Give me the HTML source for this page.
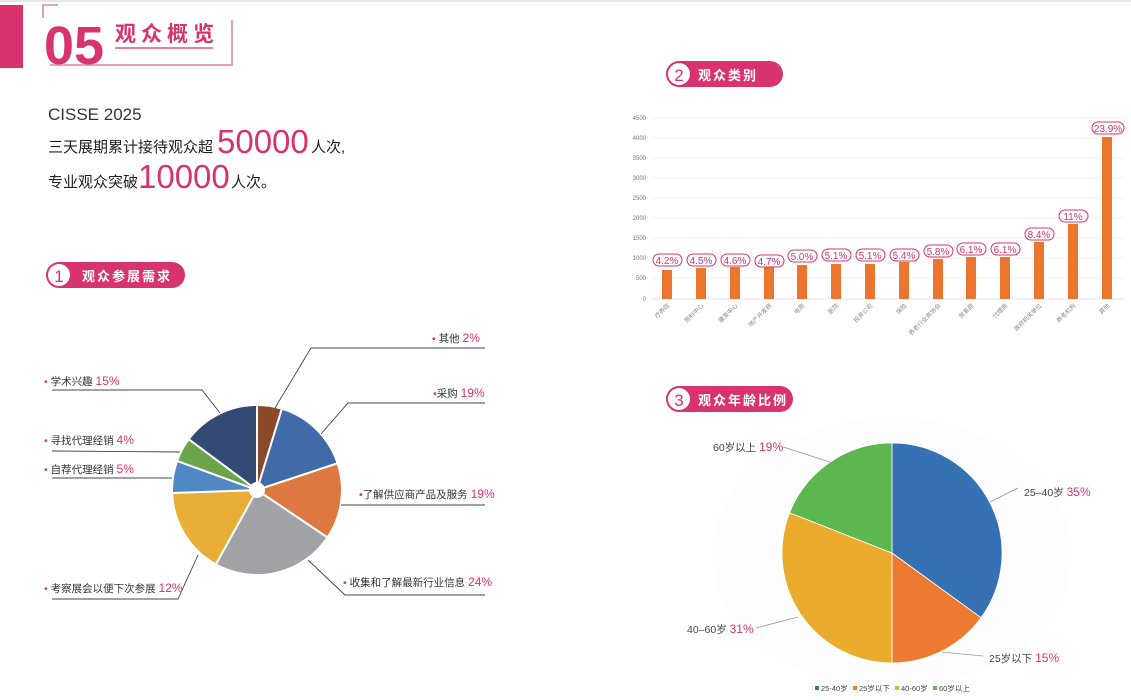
<!DOCTYPE html>
<html><head><meta charset="utf-8"><style>
html,body{margin:0;padding:0;background:#fff;}
svg{display:block;font-family:"Liberation Sans","Noto Sans CJK SC",sans-serif;}
</style></head><body>
<svg width="1131" height="700" viewBox="0 0 1131 700" xmlns="http://www.w3.org/2000/svg">
<rect width="1131" height="700" fill="#fff"/>
<line x1="0" y1="1" x2="1131" y2="1" stroke="#e6e6e6" stroke-width="2"/>
<!-- header -->
<rect x="0" y="5" width="23" height="63" fill="#d8336f"/>
<path d="M58 5 H43 V18" fill="none" stroke="#e27fa5" stroke-width="1.5"/>
<path d="M50 65 H232 V20" fill="none" stroke="#e27fa5" stroke-width="1.5"/>
<text x="44" y="64" font-size="54" font-weight="bold" fill="#d8336f" textLength="60" lengthAdjust="spacingAndGlyphs">05</text>
<text x="115" y="41" font-size="21" font-weight="bold" fill="#d8336f" letter-spacing="5">观众概览</text>
<line x1="115" y1="48" x2="213" y2="48" stroke="#d8336f" stroke-width="1.2"/>
<text x="48" y="120" font-size="17" fill="#333">CISSE 2025</text>
<text x="48" y="152" font-size="15" fill="#222">三天展期累计接待观众超</text>
<text x="217" y="153" font-size="33" fill="#d8336f">50000</text>
<text x="311" y="152" font-size="15" fill="#222">人次,</text>
<text x="48" y="187" font-size="15" fill="#222">专业观众突破</text>
<text x="138" y="188" font-size="33" fill="#d8336f">10000</text>
<text x="231" y="187" font-size="15" fill="#222">人次。</text>

<!-- pills -->
<g>
<rect x="46" y="262" width="139" height="26" rx="13" fill="#d8336f"/>
<circle cx="59" cy="275" r="11" fill="#fff"/>
<text x="59" y="282" font-size="17" fill="#d8336f" text-anchor="middle">1</text>
<text x="82" y="281" font-size="13" font-weight="bold" fill="#fff" letter-spacing="2">观众参展需求</text>
</g>
<g>
<rect x="666" y="61" width="117" height="26" rx="13" fill="#d8336f"/>
<circle cx="679" cy="74" r="11" fill="#fff"/>
<text x="679" y="81" font-size="17" fill="#d8336f" text-anchor="middle">2</text>
<text x="698" y="80" font-size="13" font-weight="bold" fill="#fff" letter-spacing="2">观众类别</text>
</g>
<g>
<rect x="666" y="386" width="127" height="26" rx="13" fill="#d8336f"/>
<circle cx="679" cy="399" r="11" fill="#fff"/>
<text x="679" y="406" font-size="17" fill="#d8336f" text-anchor="middle">3</text>
<text x="698" y="405" font-size="13" font-weight="bold" fill="#fff" letter-spacing="2">观众年龄比例</text>
</g>

<!-- bar chart -->
<g font-size="6" fill="#777" text-anchor="end">
<g stroke="#ececec" stroke-width="0.8">
<line x1="652" y1="118" x2="1124" y2="118"/><line x1="652" y1="138" x2="1124" y2="138"/>
<line x1="652" y1="158" x2="1124" y2="158"/><line x1="652" y1="178" x2="1124" y2="178"/>
<line x1="652" y1="198" x2="1124" y2="198"/><line x1="652" y1="218" x2="1124" y2="218"/>
<line x1="652" y1="238" x2="1124" y2="238"/><line x1="652" y1="258" x2="1124" y2="258"/>
<line x1="652" y1="278" x2="1124" y2="278"/>
<line x1="652" y1="299" x2="1124" y2="299" stroke="#ddd"/>
</g>
<text x="646" y="120">4500</text><text x="646" y="140">4000</text><text x="646" y="160">3500</text>
<text x="646" y="180">3000</text><text x="646" y="200">2500</text><text x="646" y="220">2000</text>
<text x="646" y="240">1500</text><text x="646" y="260">1000</text><text x="646" y="280">500</text>
<text x="646" y="301">0</text>
</g>
<g fill="#ec7530">
<rect x="662" y="270" width="10" height="29"/>
<rect x="696" y="268" width="10" height="31"/>
<rect x="730" y="267" width="10" height="32"/>
<rect x="764" y="266" width="10" height="33"/>
<rect x="797" y="265" width="10" height="34"/>
<rect x="831" y="264" width="10" height="35"/>
<rect x="865" y="264" width="10" height="35"/>
<rect x="899" y="262" width="10" height="37"/>
<rect x="933" y="259" width="10" height="40"/>
<rect x="966" y="257" width="10" height="42"/>
<rect x="1000" y="257" width="10" height="42"/>
<rect x="1034" y="242" width="10" height="57"/>
<rect x="1068" y="224" width="10" height="75"/>
<rect x="1102" y="137" width="10" height="162"/>
</g>
<g font-size="10" fill="#d8336f" text-anchor="middle">
<g fill="#fff" stroke="#d8336f" stroke-width="1">
<rect x="653" y="254" width="29" height="12" rx="6"/>
<rect x="687" y="254" width="29" height="12" rx="6"/>
<rect x="721" y="254" width="29" height="12" rx="6"/>
<rect x="755" y="255" width="29" height="12" rx="6"/>
<rect x="788" y="250" width="29" height="12" rx="6"/>
<rect x="822" y="249" width="29" height="12" rx="6"/>
<rect x="856" y="249" width="29" height="12" rx="6"/>
<rect x="890" y="249" width="29" height="12" rx="6"/>
<rect x="924" y="245" width="29" height="12" rx="6"/>
<rect x="957" y="243" width="29" height="12" rx="6"/>
<rect x="991" y="243" width="29" height="12" rx="6"/>
<rect x="1025" y="228" width="29" height="12" rx="6"/>
<rect x="1059" y="210" width="29" height="12" rx="6"/>
<rect x="1092" y="122" width="32" height="12" rx="6"/>
</g>
<text x="667" y="264">4.2%</text><text x="701" y="264">4.5%</text><text x="735" y="264">4.6%</text>
<text x="769" y="265">4.7%</text><text x="802" y="260">5.0%</text><text x="836" y="259">5.1%</text>
<text x="870" y="259">5.1%</text><text x="904" y="259">5.4%</text><text x="938" y="255">5.8%</text>
<text x="971" y="253">6.1%</text><text x="1005" y="253">6.1%</text><text x="1039" y="238">8.4%</text>
<text x="1073" y="220">11%</text><text x="1108" y="132">23.9%</text>
</g>
<g font-size="6" fill="#888" text-anchor="end">
<text transform="translate(670,306) rotate(-45)">疗养院</text>
<text transform="translate(704,306) rotate(-45)">照料中心</text>
<text transform="translate(738,306) rotate(-45)">康复中心</text>
<text transform="translate(772,306) rotate(-45)">地产开发商</text>
<text transform="translate(805,306) rotate(-45)">电商</text>
<text transform="translate(839,306) rotate(-45)">医院</text>
<text transform="translate(873,306) rotate(-45)">投资公司</text>
<text transform="translate(907,306) rotate(-45)">保险</text>
<text transform="translate(941,306) rotate(-45)">养老行业商协会</text>
<text transform="translate(974,306) rotate(-45)">贸易商</text>
<text transform="translate(1008,306) rotate(-45)">代理商</text>
<text transform="translate(1042,306) rotate(-45)">政府机关单位</text>
<text transform="translate(1076,306) rotate(-45)">养老机构</text>
<text transform="translate(1110,306) rotate(-45)">其他</text>
</g>

<!-- pie 1 -->
<g stroke="#fff" stroke-width="2">
<path d="M257 490 L257 405 A85 85 0 0 1 281.9 408.7 Z" fill="#8a4a2a"/>
<path d="M257 490 L281.9 408.7 A85 85 0 0 1 337.6 463.3 Z" fill="#416aa8"/>
<path d="M257 490 L337.6 463.3 A85 85 0 0 1 327.5 537.5 Z" fill="#dc7840"/>
<path d="M257 490 L327.5 537.5 A85 85 0 0 1 215.8 564.4 Z" fill="#a1a2a5"/>
<path d="M257 490 L215.8 564.4 A85 85 0 0 1 172.1 493 Z" fill="#e8ae38"/>
<path d="M257 490 L172.1 493 A85 85 0 0 1 177.1 460.9 Z" fill="#5088c4"/>
<path d="M257 490 L177.1 460.9 A85 85 0 0 1 188.7 439.2 Z" fill="#6aa54c"/>
<path d="M257 490 L188.7 439.2 A85 85 0 0 1 257 405 Z" fill="#334a74"/>
</g>
<circle cx="257" cy="490" r="8" fill="#fff"/>
<g fill="none" stroke="#444" stroke-width="0.9">
<polyline points="275,408 311,348 485,348"/>
<polyline points="321,434 348,403 485,403"/>
<polyline points="341,505 485,505"/>
<polyline points="308,560 345,595 485,595"/>
<polyline points="198,555 178,599 52,599"/>
<polyline points="172,478 52,478"/>
<polyline points="180,452 52,451"/>
<polyline points="220,413 202,390 52,390"/>
</g>
<g font-size="10.5" fill="#333">
<text x="432" y="342"><tspan fill="#d8336f">•</tspan> 其他 <tspan fill="#d8336f" font-size="12">2%</tspan></text>
<text x="433" y="397"><tspan fill="#d8336f">•</tspan>采购 <tspan fill="#d8336f" font-size="12">19%</tspan></text>
<text x="359" y="498"><tspan fill="#d8336f">•</tspan>了解供应商产品及服务 <tspan fill="#d8336f" font-size="12">19%</tspan></text>
<text x="343" y="586"><tspan fill="#d8336f">•</tspan> 收集和了解最新行业信息 <tspan fill="#d8336f" font-size="12">24%</tspan></text>
<text x="44" y="592"><tspan fill="#d8336f">•</tspan> 考察展会以便下次参展 <tspan fill="#d8336f" font-size="12">12%</tspan></text>
<text x="44" y="473"><tspan fill="#d8336f">•</tspan> 自荐代理经销 <tspan fill="#d8336f" font-size="12">5%</tspan></text>
<text x="44" y="444"><tspan fill="#d8336f">•</tspan> 寻找代理经销 <tspan fill="#d8336f" font-size="12">4%</tspan></text>
<text x="44" y="385"><tspan fill="#d8336f">•</tspan> 学术兴趣 <tspan fill="#d8336f" font-size="12">15%</tspan></text>
</g>

<!-- pie 3 -->
<ellipse cx="892" cy="553" rx="180" ry="135" fill="#fdfdfd"/>
<g stroke="#fff" stroke-width="0.8">
<path d="M892 553 L892 443 A110 110 0 0 1 981 617.7 Z" fill="#3571b3"/>
<path d="M892 553 L981 617.7 A110 110 0 0 1 892 663 Z" fill="#ed7a31"/>
<path d="M892 553 L892 663 A110 110 0 0 1 789.6 512.8 Z" fill="#ebac2d"/>
<path d="M892 553 L789.6 512.8 A110 110 0 0 1 892 443 Z" fill="#5cb84e"/>
</g>
<g fill="none" stroke="#999" stroke-width="0.8">
<polyline points="990,502 1018,488"/>
<polyline points="942,652 983,656"/>
<polyline points="798,617 756,628"/>
<polyline points="830,462 783,447"/>
</g>
<g font-size="10.5" fill="#444">
<text x="1024" y="496">25–40岁 <tspan fill="#d8336f" font-size="12">35%</tspan></text>
<text x="989" y="662">25岁以下 <tspan fill="#d8336f" font-size="12">15%</tspan></text>
<text x="687" y="633">40–60岁 <tspan fill="#d8336f" font-size="12">31%</tspan></text>
<text x="713" y="451">60岁以上 <tspan fill="#d8336f" font-size="12">19%</tspan></text>
</g>
<g font-size="7.5" fill="#444">
<rect x="815" y="686" width="4" height="4" fill="#3571b3"/><text x="821" y="691">25-40岁</text>
<rect x="853" y="686" width="4" height="4" fill="#ed7a31"/><text x="859" y="691">25岁以下</text>
<rect x="895" y="686" width="4" height="4" fill="#ebac2d"/><text x="901" y="691">40-60岁</text>
<rect x="933" y="686" width="4" height="4" fill="#5cb84e"/><text x="939" y="691">60岁以上</text>
</g>
</svg>
</body></html>
